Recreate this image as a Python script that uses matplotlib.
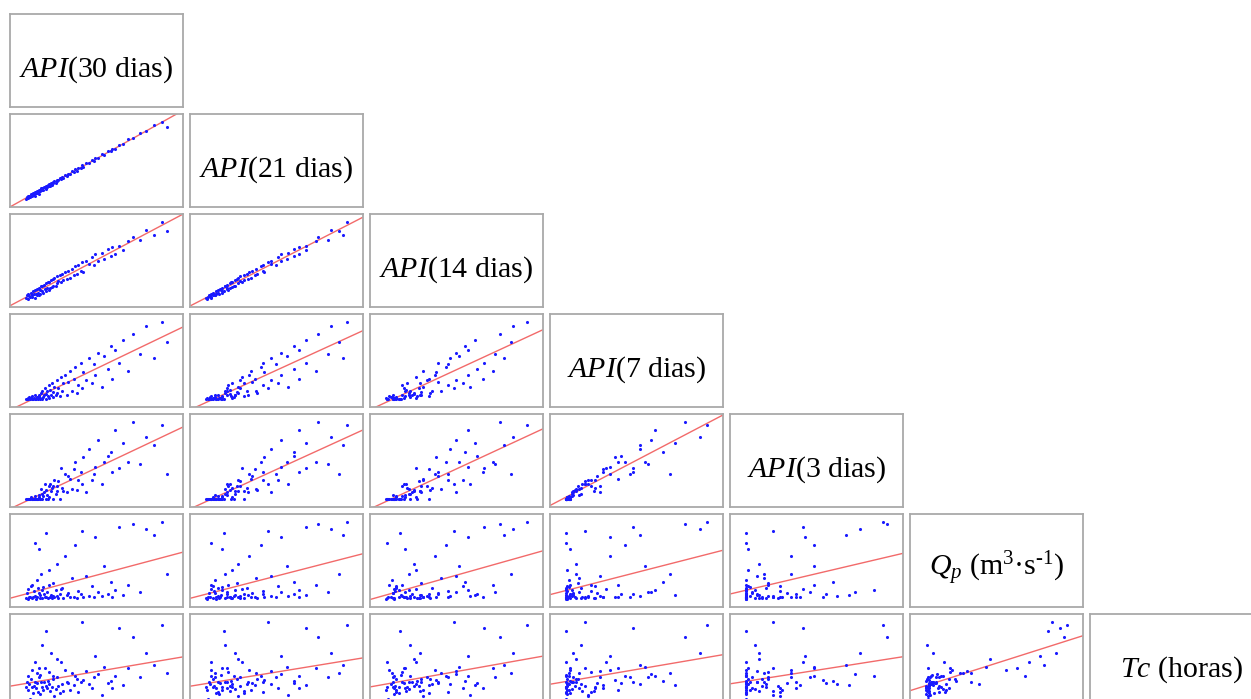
import numpy as np
import matplotlib
matplotlib.use("Agg")
import matplotlib.pyplot as plt

plt.rcParams['font.family'] = ['Liberation Serif', 'DejaVu Serif']
plt.rcParams['mathtext.fontset'] = 'custom'
plt.rcParams['mathtext.rm'] = 'Liberation Serif'
plt.rcParams['mathtext.it'] = 'Liberation Serif:italic'
plt.rcParams['mathtext.bf'] = 'Liberation Serif:bold'

labels = [r'$\mathit{API}$(30 dias)', r'$\mathit{API}$(21 dias)', r'$\mathit{API}$(14 dias)',
          r'$\mathit{API}$(7 dias)', r'$\mathit{API}$(3 dias)',
          r'$Q_p$ (m$^{3}$·s$^{\text{-1}}$)', r'$\mathit{Tc}$ (horas)']

api30 = [40, 42, 44, 45, 47, 48, 50, 52, 53, 55, 56, 57, 58, 60, 61, 62, 64, 65, 66, 67,
         68, 70, 71, 72, 74, 75, 77, 78, 79, 80, 82, 84, 85, 87, 88, 90, 92, 93, 95, 97,
         99, 100, 102, 105, 108, 110, 112, 115, 118, 120, 124, 128, 132, 135, 137, 140, 145, 148, 150, 155,
         160, 166, 170, 172, 178, 185, 190, 196, 202, 205, 210, 218, 225, 235, 245, 258, 270, 285, 300, 310]
api21 = [29, 34, 31, 36, 35, 33, 40, 39, 37, 44, 41, 36, 46, 44, 43, 49, 47, 42, 52, 51,
         48, 56, 52, 57, 52, 60, 59, 55, 63, 60, 65, 61, 67, 63, 70, 66, 73, 69, 75, 71,
         78, 75, 78, 83, 81, 87, 83, 91, 89, 95, 93, 101, 99, 107, 102, 111, 110, 117, 112, 122,
         122, 131, 129, 136, 136, 146, 145, 154, 154, 161, 161, 171, 172, 185, 188, 202, 207, 224, 230, 218]
api14 = [20, 26, 18, 27, 24, 21, 30, 26, 22, 33, 28, 20, 36, 27, 25, 38, 30, 26, 40, 35,
         27, 44, 33, 45, 30, 47, 38, 34, 50, 40, 53, 36, 52, 41, 56, 42, 58, 45, 60, 44,
         64, 50, 55, 66, 52, 70, 56, 73, 58, 76, 60, 80, 66, 85, 68, 88, 76, 94, 74, 96,
         90, 104, 88, 110, 96, 112, 100, 120, 106, 126, 110, 128, 118, 138, 146, 140, 160, 150, 176, 158]
api7 = [5, 5, 6, 5, 7, 5, 6, 5, 8, 5, 6, 5, 9, 5, 7, 6, 5, 10, 8, 5,
        6, 12, 5, 15, 7, 9, 18, 5, 11, 14, 8, 22, 6, 16, 10, 25, 13, 7, 20, 9,
        28, 12, 18, 8, 32, 15, 24, 35, 10, 26, 40, 14, 30, 45, 12, 22, 50, 18, 38, 28,
        55, 25, 48, 35, 62, 20, 58, 42, 70, 30, 65, 50, 78, 40, 85, 60, 95, 55, 100, 75]
api3 = [0, 0, 0, 0, 0, 0, 1, 0, 0, 0, 0, 0, 2, 0, 0, 0, 0, 3, 1, 0,
        0, 8, 0, 4, 2, 5, 12, 0, 7, 3, 0, 10, 1, 12, 6, 9, 10, 0, 15, 4,
        10, 6, 14, 0, 25, 9, 6, 20, 5, 18, 16, 8, 24, 30, 7, 15, 22, 12, 34, 5,
        40, 15, 20, 26, 48, 12, 30, 35, 38, 22, 56, 25, 45, 30, 62, 28, 50, 44, 60, 20]
qp = [0.8, 1.9, 0.6, 2.9, 1.0, 0.9, 3.6, 0.7, 4.0, 1.1, 2.4, 14.0, 1.3, 0.6, 5.0, 1.0, 3.1, 2.0, 12.5, 1.4,
      0.7, 6.5, 2.6, 0.8, 3.3, 1.6, 0.9, 16.5, 1.1, 2.2, 0.7, 3.8, 7.5, 1.0, 1.5, 0.8, 4.4, 1.3, 0.9, 2.8,
      1.2, 9.0, 0.7, 1.7, 3.0, 3.2, 0.8, 11.0, 1.4, 2.0, 0.9, 5.5, 1.1, 13.5, 0.8, 2.4, 1.6, 17.0, 1.0, 6.0,
      1.3, 3.6, 0.9, 15.5, 2.1, 1.2, 8.5, 1.8, 4.5, 1.0, 2.6, 18.0, 1.5, 3.8, 18.5, 2.3, 17.5, 16.0, 19.0, 6.5]
tc = [7.0, 8.0, 6.5, 9.0, 7.5, 5.0, 8.5, 7.0, 10.0, 6.0, 7.2, 11.5, 8.0, 6.8, 9.5, 7.7, 6.2, 8.8, 10.5, 9.2,
      5.8, 8.0, 7.1, 14.5, 6.6, 7.9, 10.5, 17.0, 7.3, 6.9, 8.1, 9.8, 7.6, 6.4, 13.0, 7.0, 8.4, 9.0, 5.5, 6.7,
      8.9, 12.0, 7.2, 6.0, 11.5, 7.5, 6.3, 10.0, 8.0, 7.7, 6.5, 9.6, 7.4, 9.0, 8.5, 6.1, 7.9, 18.5, 8.3, 9.9,
      7.6, 6.8, 8.8, 12.5, 9.3, 5.6, 10.6, 7.7, 8.2, 6.9, 9.0, 17.5, 7.4, 10.4, 16.0, 8.8, 13.0, 11.0, 18.0, 9.5]

data = [api30, api21, api14, api7, api3, qp, tc]
nvar = len(data)

W, H = 1251, 699
fig = plt.figure(figsize=(W / 100, H / 100), dpi=100)

col_left0, col_step, cell_w = 10, 180, 173
row_top0, row_step, cell_h = 14, 100, 93
frame_col = '#a9a9a9'
PAD = 0.11


def make_ax(i, j):
    left = col_left0 + col_step * j
    top = row_top0 + row_step * i
    ax = fig.add_axes([left / W, 1 - (top + cell_h) / H, cell_w / W, cell_h / H])
    ax.set_xticks([])
    ax.set_yticks([])
    for s in ax.spines.values():
        s.set_color(frame_col)
        s.set_linewidth(1.3)
    return ax


def lims(v):
    v = np.asarray(v, float)
    lo, hi = v.min(), v.max()
    r = hi - lo
    return lo - PAD * r, hi + PAD * r


for i in range(nvar):
    for j in range(i + 1):
        ax = make_ax(i, j)
        if i == j:
            xoff = 0.53 if i == nvar - 1 else 0.5
            ax.text(xoff, 0.33, labels[i], transform=ax.transAxes, ha='center', va='baseline',
                    fontsize=21.5, color='black')
            ax.set_xlim(0, 1)
            ax.set_ylim(0, 1)
            continue
        x = np.asarray(data[j], float)
        y = np.asarray(data[i], float)
        xl = lims(x)
        yl = lims(y)
        ax.scatter(x, y, s=5, color='#1a1aff', linewidths=0, zorder=3)
        b, a = np.polyfit(x, y, 1)
        xx = np.array(xl)
        ax.plot(xx, a + b * xx, color='#f26a6a', lw=1.0, zorder=2)
        ax.set_xlim(*xl)
        ax.set_ylim(*yl)

fig.savefig('out.png', dpi=100, facecolor='white')
